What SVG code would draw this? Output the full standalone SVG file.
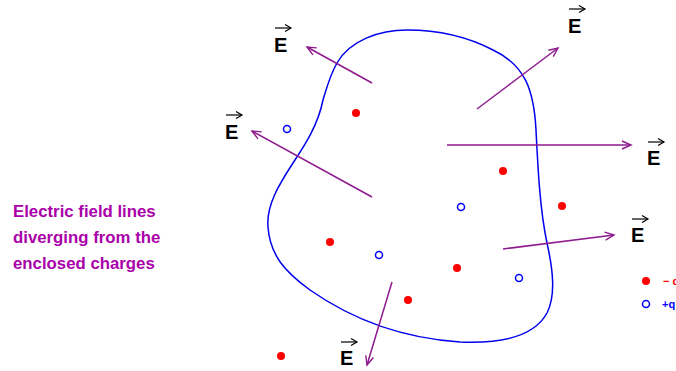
<svg xmlns="http://www.w3.org/2000/svg" width="676" height="371" viewBox="0 0 676 371">
<defs>
<marker id="ah" markerWidth="12" markerHeight="12" refX="10" refY="6" orient="auto" markerUnits="userSpaceOnUse">
<path d="M1,2 L10,6 L1,10" fill="none" stroke="#8E1A8E" stroke-width="1.4"/>
</marker>
<marker id="eh" markerWidth="10" markerHeight="10" refX="8" refY="5" orient="auto" markerUnits="userSpaceOnUse">
<path d="M2,1.5 L8,5 L2,8.5" fill="none" stroke="#000" stroke-width="1.2"/>
</marker>
</defs>
<style>
.fl{stroke:#8E1A8E;stroke-width:1.5;fill:none;marker-end:url(#ah)}
.E{font-family:"Liberation Sans",Arial,sans-serif;font-weight:bold;font-size:20px;fill:#000}
.ea{stroke:#000;stroke-width:1.2;fill:none;marker-end:url(#eh)}
.neg{fill:#FF0000}
.pos{fill:none;stroke:#0000FF;stroke-width:1.5}
.cap{font-family:"Liberation Sans",Arial,sans-serif;font-weight:bold;font-size:16.8px;fill:#AA00AA}
.leg{font-family:"Liberation Sans",Arial,sans-serif;font-weight:bold;font-size:11px}
</style>
<rect width="676" height="371" fill="#fff"/>
<g id="surface">
<path d="M407,30 C380,30 350,40 337,63 C330,75 326,90 323,100 C318,125 305,145 293,163 C280,183 266,205 268,227 C270,255 285,272 310,290 C350,318 400,338 460,342 C505,344 535,335 547,313 C556,295 553,270 547,243 C540,210 538,170 536,130 C534,90 525,65 493,50 C470,38 440,30 407,30 Z" fill="none" stroke="#0000EE" stroke-width="1.5"/>
</g>
<g id="connectors">
<line class="fl" x1="372" y1="83" x2="307" y2="47"/>
<line class="fl" x1="477" y1="109" x2="558" y2="48"/>
<line class="fl" x1="447" y1="145" x2="631" y2="145"/>
<line class="fl" x1="372" y1="197" x2="252" y2="131"/>
<line class="fl" x1="503" y1="249" x2="614" y2="235"/>
<line class="fl" x1="392" y1="282" x2="367" y2="365"/>
</g>
<g id="E1"><text class="E" x="274" y="52">E</text><line class="ea" x1="275" y1="28" x2="291" y2="28"/></g>
<g id="E2"><text class="E" x="568" y="33">E</text><line class="ea" x1="569" y1="9" x2="585" y2="9"/></g>
<g id="E3"><text class="E" x="647" y="165">E</text><line class="ea" x1="648" y1="142" x2="664" y2="142"/></g>
<g id="E4"><text class="E" x="225" y="139">E</text><line class="ea" x1="226" y1="115" x2="242" y2="115"/></g>
<g id="E5"><text class="E" x="631" y="242">E</text><line class="ea" x1="632" y1="219" x2="648" y2="219"/></g>
<g id="E6"><text class="E" x="340" y="365">E</text><line class="ea" x1="341" y1="342" x2="357" y2="342"/></g>
<g id="negative-charges">
<circle class="neg" cx="356" cy="113" r="4"/>
<circle class="neg" cx="503" cy="171" r="4"/>
<circle class="neg" cx="562" cy="206" r="4"/>
<circle class="neg" cx="330" cy="242" r="4"/>
<circle class="neg" cx="457" cy="268" r="4"/>
<circle class="neg" cx="408" cy="300" r="4"/>
<circle class="neg" cx="281" cy="356" r="4"/>
</g>
<g id="positive-charges">
<circle class="pos" cx="287" cy="129" r="3.5"/>
<circle class="pos" cx="461" cy="207" r="3.5"/>
<circle class="pos" cx="379" cy="255" r="3.5"/>
<circle class="pos" cx="519" cy="278" r="3.5"/>
</g>
<g id="caption">
<text class="cap" x="13" y="217">Electric field lines</text>
<text class="cap" x="13" y="243">diverging from the</text>
<text class="cap" x="13" y="269">enclosed charges</text>
</g>
<g id="legend">
<circle class="neg" cx="646" cy="281" r="4"/>
<text class="leg" x="663" y="285" fill="#FF0000">− q</text>
<circle class="pos" cx="646" cy="304" r="3.5"/>
<text class="leg" x="662" y="308" fill="#0000FF">+q</text>
</g>
</svg>
